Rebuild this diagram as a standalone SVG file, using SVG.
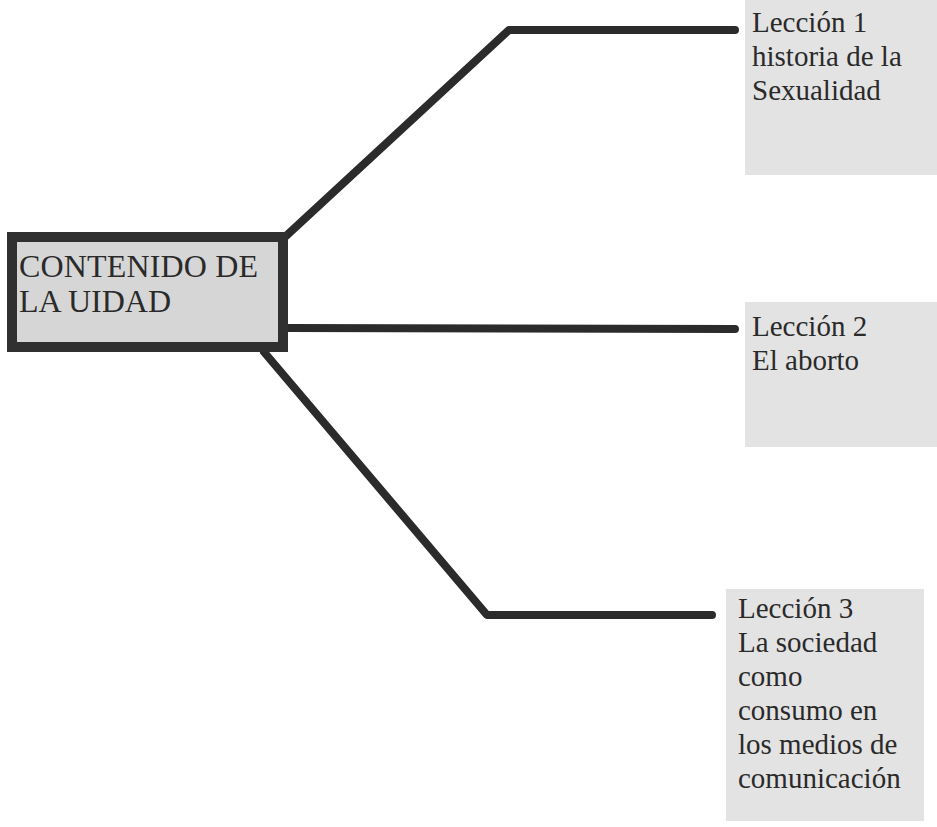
<svg xmlns="http://www.w3.org/2000/svg" width="937" height="827" viewBox="0 0 937 827">
<style>
.lbl{fill:#e3e3e3}
.t{font-size:29px;fill:#2a2a2a}
.tc{font-size:32px;fill:#2a2a2a}
.c{fill:none;stroke:#2b2b2b;stroke-width:8;stroke-linecap:round;stroke-linejoin:round}
</style>
<rect width="937" height="827" fill="#ffffff"/>
<g id="connectors">
<polyline class="c" points="286,236 509,30 735,30"/>
<polyline class="c" points="288,328 735,329"/>
<polyline class="c" points="264,352 487,615 712,615"/>
</g>
<g font-family="'Liberation Serif', 'Times New Roman', serif">
<g id="center">
<rect x="12" y="237" width="271" height="110" fill="#d6d6d6" stroke="#303030" stroke-width="10"/>
<text class="tc" x="19" y="277" textLength="239">CONTENIDO DE</text>
<text class="tc" x="19" y="312">LA UIDAD</text>
</g>
<g id="leccion1">
<rect class="lbl" x="745" y="0" width="192" height="175"/>
<text class="t" x="752" y="32">Lección 1</text>
<text class="t" x="752" y="66">historia de la</text>
<text class="t" x="752" y="100">Sexualidad</text>
</g>
<g id="leccion2">
<rect class="lbl" x="745" y="302" width="192" height="145"/>
<text class="t" x="752" y="336">Lección 2</text>
<text class="t" x="752" y="370">El aborto</text>
</g>
<g id="leccion3">
<rect class="lbl" x="726" y="589" width="198" height="232"/>
<text class="t" x="738" y="618">Lección 3</text>
<text class="t" x="738" y="652">La sociedad</text>
<text class="t" x="738" y="686">como</text>
<text class="t" x="738" y="720">consumo en</text>
<text class="t" x="738" y="754">los medios de</text>
<text class="t" x="738" y="788">comunicación</text>
</g>
</g>
</svg>
